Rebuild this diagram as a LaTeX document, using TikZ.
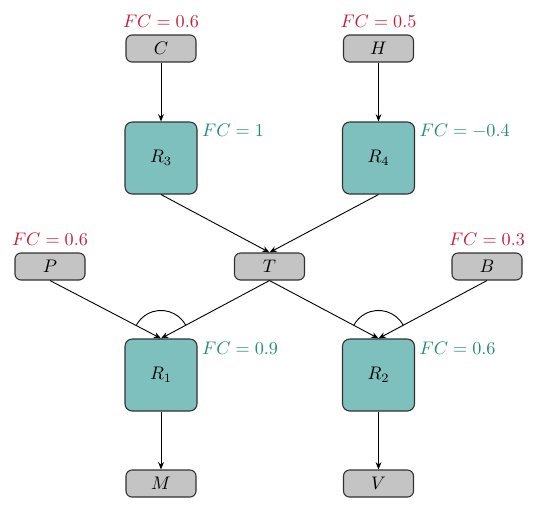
\documentclass[tikz,border=0pt]{standalone}
\usetikzlibrary{arrows.meta}
\definecolor{boxgray}{RGB}{196,196,196}
\definecolor{tealfill}{RGB}{125,192,189}
\definecolor{labred}{RGB}{196,30,58}
\definecolor{labgreen}{RGB}{35,140,118}
\definecolor{edgegray}{RGB}{50,50,50}
\tikzset{
  smallbox/.style={draw=edgegray, fill=boxgray, rounded corners=3.3pt, minimum width=38.5pt, minimum height=14.85pt, inner sep=0pt, line width=0.6pt},
  bigbox/.style={draw=edgegray, fill=tealfill, rounded corners=4pt, minimum width=39.6pt, minimum height=39.6pt, inner sep=0pt, line width=0.6pt},
  redlab/.style={text=labred, inner sep=0pt, anchor=south},
  greenlab/.style={text=labgreen, inner sep=0pt, anchor=west},
  conn/.style={draw=black, line width=0.5pt, -{Stealth[length=4pt,width=3.2pt]}},
  arcline/.style={draw=black, line width=0.5pt}
}
\begin{document}
\begin{tikzpicture}[x=0.55pt, y=-0.55pt]
\useasboundingbox (0,0) rectangle (540,507);
\node[smallbox] (C) at (161,48.5) {$C$};
\node[smallbox] (H) at (378.5,48.5) {$H$};
\node[bigbox] (R3) at (161,158) {$R_3$};
\node[bigbox] (R4) at (378.5,158) {$R_4$};
\node[smallbox] (P) at (50,266.5) {$P$};
\node[smallbox] (T) at (269.5,266.5) {$T$};
\node[smallbox] (B) at (487,266.5) {$B$};
\node[bigbox] (R1) at (161,375) {$R_1$};
\node[bigbox] (R2) at (378.5,375) {$R_2$};
\node[smallbox] (M) at (161,483.5) {$M$};
\node[smallbox] (V) at (378.5,483.5) {$V$};

\node[redlab] (lC) at ([yshift=3.85pt]C.north) {$FC = 0.6$};
\node[redlab] (lH) at ([yshift=3.85pt]H.north) {$FC = 0.5$};
\node[redlab] (lP) at ([yshift=3.85pt]P.north) {$FC = 0.6$};
\node[redlab] (lB) at ([yshift=3.85pt]B.north) {$FC = 0.3$};
\node[greenlab] (lR3) at ([xshift=2.3pt,yshift=-5pt]R3.north east) {$FC = 1$};
\node[greenlab] (lR4) at ([xshift=2.3pt,yshift=-5pt]R4.north east) {$FC = -0.4$};
\node[greenlab] (lR1) at ([xshift=2.3pt,yshift=-5.4pt]R1.north east) {$FC = 0.9$};
\node[greenlab] (lR2) at ([xshift=2.3pt,yshift=-5.4pt]R2.north east) {$FC = 0.6$};

\draw[conn] (C.south) -- (R3.north);
\draw[conn] (H.south) -- (R4.north);
\draw[conn] (R3.south) -- (T.north);
\draw[conn] (R4.south) -- (T.north);
\draw[conn] (P.south) -- (R1.north);
\draw[conn] (T.south) -- (R1.north);
\draw[conn] (T.south) -- (R2.north);
\draw[conn] (B.south) -- (R2.north);
\draw[conn] (R1.south) -- (M.north);
\draw[conn] (R2.south) -- (V.north);

\draw[arcline] ([shift={(28.5:15.4pt)}]R1.north) arc[start angle=28.5, end angle=152, radius=15.4pt];
\draw[arcline] ([shift={(28.5:15.4pt)}]R2.north) arc[start angle=28.5, end angle=151.6, radius=15.4pt];
\end{tikzpicture}
\end{document}
